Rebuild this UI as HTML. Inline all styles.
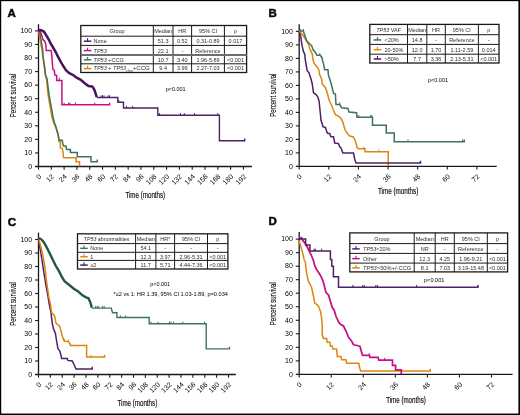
<!DOCTYPE html>
<html><head><meta charset="utf-8"><style>
html,body{margin:0;padding:0;background:#fff;}
body{width:520px;height:415px;overflow:hidden;}
svg{display:block;font-family:"Liberation Sans", sans-serif;will-change:transform;}
</style></head><body>
<svg width="520" height="415" viewBox="0 0 520 415">
<rect x="0" y="0" width="520" height="415" fill="#fff"/>
<text x="7.40" y="17.25" font-size="11.5" font-weight="bold" stroke="#1a1a1a" stroke-width="0.55">A</text>
<line x1="38.50" y1="24.20" x2="38.50" y2="167.10" stroke="#1a1a1a" stroke-width="1.3"/>
<line x1="35.10" y1="166.50" x2="251.90" y2="166.50" stroke="#1a1a1a" stroke-width="1.3"/>
<text x="32.15" y="168.80" font-size="7" text-anchor="end">0</text>
<line x1="35.10" y1="152.94" x2="38.50" y2="152.94" stroke="#1a1a1a" stroke-width="1.1"/>
<text x="32.15" y="155.24" font-size="7" text-anchor="end">10</text>
<line x1="35.10" y1="139.38" x2="38.50" y2="139.38" stroke="#1a1a1a" stroke-width="1.1"/>
<text x="32.15" y="141.68" font-size="7" text-anchor="end">20</text>
<line x1="35.10" y1="125.82" x2="38.50" y2="125.82" stroke="#1a1a1a" stroke-width="1.1"/>
<text x="32.15" y="128.12" font-size="7" text-anchor="end">30</text>
<line x1="35.10" y1="112.26" x2="38.50" y2="112.26" stroke="#1a1a1a" stroke-width="1.1"/>
<text x="32.15" y="114.56" font-size="7" text-anchor="end">40</text>
<line x1="35.10" y1="98.70" x2="38.50" y2="98.70" stroke="#1a1a1a" stroke-width="1.1"/>
<text x="32.15" y="101.00" font-size="7" text-anchor="end">50</text>
<line x1="35.10" y1="85.14" x2="38.50" y2="85.14" stroke="#1a1a1a" stroke-width="1.1"/>
<text x="32.15" y="87.44" font-size="7" text-anchor="end">60</text>
<line x1="35.10" y1="71.58" x2="38.50" y2="71.58" stroke="#1a1a1a" stroke-width="1.1"/>
<text x="32.15" y="73.88" font-size="7" text-anchor="end">70</text>
<line x1="35.10" y1="58.02" x2="38.50" y2="58.02" stroke="#1a1a1a" stroke-width="1.1"/>
<text x="32.15" y="60.32" font-size="7" text-anchor="end">80</text>
<line x1="35.10" y1="44.46" x2="38.50" y2="44.46" stroke="#1a1a1a" stroke-width="1.1"/>
<text x="32.15" y="46.76" font-size="7" text-anchor="end">90</text>
<line x1="35.10" y1="30.90" x2="38.50" y2="30.90" stroke="#1a1a1a" stroke-width="1.1"/>
<text x="32.15" y="33.20" font-size="7" text-anchor="end">100</text>
<line x1="38.50" y1="166.50" x2="38.50" y2="169.70" stroke="#1a1a1a" stroke-width="1.1"/>
<text x="41.70" y="177.00" font-size="7" text-anchor="end" transform="rotate(-45 41.70 177.00)">0</text>
<line x1="51.31" y1="166.50" x2="51.31" y2="169.70" stroke="#1a1a1a" stroke-width="1.1"/>
<text x="54.51" y="177.00" font-size="7" text-anchor="end" transform="rotate(-45 54.51 177.00)">12</text>
<line x1="64.12" y1="166.50" x2="64.12" y2="169.70" stroke="#1a1a1a" stroke-width="1.1"/>
<text x="67.32" y="177.00" font-size="7" text-anchor="end" transform="rotate(-45 67.32 177.00)">24</text>
<line x1="76.93" y1="166.50" x2="76.93" y2="169.70" stroke="#1a1a1a" stroke-width="1.1"/>
<text x="80.13" y="177.00" font-size="7" text-anchor="end" transform="rotate(-45 80.13 177.00)">36</text>
<line x1="89.74" y1="166.50" x2="89.74" y2="169.70" stroke="#1a1a1a" stroke-width="1.1"/>
<text x="92.94" y="177.00" font-size="7" text-anchor="end" transform="rotate(-45 92.94 177.00)">48</text>
<line x1="102.55" y1="166.50" x2="102.55" y2="169.70" stroke="#1a1a1a" stroke-width="1.1"/>
<text x="105.75" y="177.00" font-size="7" text-anchor="end" transform="rotate(-45 105.75 177.00)">60</text>
<line x1="115.36" y1="166.50" x2="115.36" y2="169.70" stroke="#1a1a1a" stroke-width="1.1"/>
<text x="118.56" y="177.00" font-size="7" text-anchor="end" transform="rotate(-45 118.56 177.00)">72</text>
<line x1="128.17" y1="166.50" x2="128.17" y2="169.70" stroke="#1a1a1a" stroke-width="1.1"/>
<text x="131.37" y="177.00" font-size="7" text-anchor="end" transform="rotate(-45 131.37 177.00)">84</text>
<line x1="140.98" y1="166.50" x2="140.98" y2="169.70" stroke="#1a1a1a" stroke-width="1.1"/>
<text x="144.18" y="177.00" font-size="7" text-anchor="end" transform="rotate(-45 144.18 177.00)">96</text>
<line x1="153.79" y1="166.50" x2="153.79" y2="169.70" stroke="#1a1a1a" stroke-width="1.1"/>
<text x="156.99" y="177.00" font-size="7" text-anchor="end" transform="rotate(-45 156.99 177.00)">108</text>
<line x1="166.60" y1="166.50" x2="166.60" y2="169.70" stroke="#1a1a1a" stroke-width="1.1"/>
<text x="169.80" y="177.00" font-size="7" text-anchor="end" transform="rotate(-45 169.80 177.00)">120</text>
<line x1="179.41" y1="166.50" x2="179.41" y2="169.70" stroke="#1a1a1a" stroke-width="1.1"/>
<text x="182.61" y="177.00" font-size="7" text-anchor="end" transform="rotate(-45 182.61 177.00)">132</text>
<line x1="192.22" y1="166.50" x2="192.22" y2="169.70" stroke="#1a1a1a" stroke-width="1.1"/>
<text x="195.42" y="177.00" font-size="7" text-anchor="end" transform="rotate(-45 195.42 177.00)">144</text>
<line x1="205.03" y1="166.50" x2="205.03" y2="169.70" stroke="#1a1a1a" stroke-width="1.1"/>
<text x="208.23" y="177.00" font-size="7" text-anchor="end" transform="rotate(-45 208.23 177.00)">156</text>
<line x1="217.84" y1="166.50" x2="217.84" y2="169.70" stroke="#1a1a1a" stroke-width="1.1"/>
<text x="221.04" y="177.00" font-size="7" text-anchor="end" transform="rotate(-45 221.04 177.00)">168</text>
<line x1="230.65" y1="166.50" x2="230.65" y2="169.70" stroke="#1a1a1a" stroke-width="1.1"/>
<text x="233.85" y="177.00" font-size="7" text-anchor="end" transform="rotate(-45 233.85 177.00)">180</text>
<line x1="243.46" y1="166.50" x2="243.46" y2="169.70" stroke="#1a1a1a" stroke-width="1.1"/>
<text x="246.66" y="177.00" font-size="7" text-anchor="end" transform="rotate(-45 246.66 177.00)">192</text>
<text x="16.00" y="95.55" font-size="9.8" text-anchor="middle" textLength="43.3" lengthAdjust="spacingAndGlyphs" transform="rotate(-90 16.00 95.55)" stroke="#1a1a1a" stroke-width="0.12">Percent survival</text>
<text x="125.40" y="197.50" font-size="9.4" textLength="39.8" lengthAdjust="spacingAndGlyphs" stroke="#1a1a1a" stroke-width="0.18">Time (months)</text>
<polyline points="38.70,31.60 39.10,33.20 40.10,40.50 42.00,49.90 43.00,57.70 44.40,67.30 45.30,75.00 46.70,80.00 47.70,91.90 49.00,100.00 50.30,108.00 51.70,116.00 53.00,121.00 54.75,124.90 57.90,133.00 59.10,141.75 60.40,141.75 60.40,148.00 62.25,148.60 62.90,151.75 63.50,157.75 76.00,157.75 76.00,161.75 79.50,161.75 79.50,166.20" fill="none" stroke="#dc860f" stroke-width="1.5" stroke-linejoin="miter" stroke-linecap="butt"/>
<polyline points="38.70,31.60 39.80,31.80 41.20,40.50 42.70,49.90 43.20,57.70 44.70,67.30 45.60,75.00 47.10,78.90 48.00,86.60 49.20,95.70 50.60,103.40 52.00,111.10 53.00,116.90 54.50,122.70 55.90,126.60 56.60,129.25 58.50,136.75 59.10,140.25 62.25,140.25 62.90,144.00 63.50,146.10 66.00,146.10 66.60,149.60 70.40,149.60 70.40,152.40 77.25,152.40 77.25,156.75 91.00,156.75 91.00,161.75 97.30,161.75 97.30,159.60" fill="none" stroke="#3f735a" stroke-width="1.5" stroke-linejoin="miter" stroke-linecap="butt"/>
<polyline points="38.70,30.30 40.90,32.90 42.00,36.10 43.00,39.70 44.80,41.20 45.90,44.80 46.20,50.50 51.00,50.50 51.40,52.00 52.90,69.30 54.30,70.20 54.80,75.00 56.70,75.50 56.70,80.40 61.90,80.40 61.90,104.80 109.60,104.80 109.60,102.80" fill="none" stroke="#c80f82" stroke-width="1.5" stroke-linejoin="miter" stroke-linecap="butt"/>
<line x1="59.30" y1="80.00" x2="59.30" y2="77.80" stroke="#c80f82" stroke-width="1.0"/>
<line x1="64.10" y1="104.80" x2="64.10" y2="102.60" stroke="#c80f82" stroke-width="1.0"/>
<line x1="68.50" y1="104.80" x2="68.50" y2="102.60" stroke="#c80f82" stroke-width="1.0"/>
<line x1="69.75" y1="104.80" x2="69.75" y2="102.60" stroke="#c80f82" stroke-width="1.0"/>
<line x1="75.40" y1="104.80" x2="75.40" y2="102.60" stroke="#c80f82" stroke-width="1.0"/>
<line x1="94.75" y1="104.80" x2="94.75" y2="102.60" stroke="#c80f82" stroke-width="1.0"/>
<polyline points="38.70,30.00 41.20,30.20 44.10,31.80 46.30,35.40 48.50,39.00 50.60,43.40 52.80,47.00 55.70,52.00 57.20,55.20 60.60,61.60 63.50,66.40 65.90,70.20 69.30,73.10 73.10,75.00 77.00,77.90 80.80,79.90 84.70,83.20 88.50,86.10 92.40,86.60 94.30,89.50 95.50,93.00 96.60,97.00" fill="none" stroke="#46145e" stroke-width="2.5" stroke-linejoin="miter" stroke-linecap="butt"/>
<polyline points="96.60,97.50 117.80,97.50 117.80,102.30 123.50,102.30 123.50,108.00 157.80,108.00 157.80,115.30 219.40,115.30 219.40,140.80 244.70,140.80 244.70,138.60" fill="none" stroke="#4f1f68" stroke-width="1.4" stroke-linejoin="miter" stroke-linecap="butt"/>
<line x1="101.00" y1="97.50" x2="101.00" y2="95.30" stroke="#4f1f68" stroke-width="1.0"/>
<line x1="102.50" y1="97.50" x2="102.50" y2="95.30" stroke="#4f1f68" stroke-width="1.0"/>
<line x1="104.00" y1="97.50" x2="104.00" y2="95.30" stroke="#4f1f68" stroke-width="1.0"/>
<line x1="108.00" y1="97.50" x2="108.00" y2="95.30" stroke="#4f1f68" stroke-width="1.0"/>
<line x1="109.50" y1="97.50" x2="109.50" y2="95.30" stroke="#4f1f68" stroke-width="1.0"/>
<line x1="118.80" y1="102.30" x2="118.80" y2="100.10" stroke="#4f1f68" stroke-width="1.0"/>
<line x1="126.50" y1="108.00" x2="126.50" y2="105.80" stroke="#4f1f68" stroke-width="1.0"/>
<line x1="132.70" y1="108.00" x2="132.70" y2="105.80" stroke="#4f1f68" stroke-width="1.0"/>
<line x1="159.60" y1="115.30" x2="159.60" y2="113.10" stroke="#4f1f68" stroke-width="1.0"/>
<line x1="180.50" y1="115.30" x2="180.50" y2="113.10" stroke="#4f1f68" stroke-width="1.0"/>
<line x1="184.30" y1="115.30" x2="184.30" y2="113.10" stroke="#4f1f68" stroke-width="1.0"/>
<line x1="194.50" y1="115.30" x2="194.50" y2="113.10" stroke="#4f1f68" stroke-width="1.0"/>
<line x1="217.70" y1="115.30" x2="217.70" y2="113.10" stroke="#4f1f68" stroke-width="1.0"/>
<rect x="80.80" y="25.50" width="165.80" height="47.00" fill="#fff" stroke="#1a1a1a" stroke-width="1.3"/>
<line x1="80.80" y1="36.20" x2="246.60" y2="36.20" stroke="#1a1a1a" stroke-width="1.0"/>
<line x1="80.80" y1="45.40" x2="246.60" y2="45.40" stroke="#1a1a1a" stroke-width="1.0"/>
<line x1="80.80" y1="55.00" x2="246.60" y2="55.00" stroke="#1a1a1a" stroke-width="1.0"/>
<line x1="80.80" y1="63.80" x2="246.60" y2="63.80" stroke="#1a1a1a" stroke-width="1.0"/>
<line x1="153.30" y1="25.50" x2="153.30" y2="72.50" stroke="#1a1a1a" stroke-width="1.0"/>
<line x1="173.00" y1="25.50" x2="173.00" y2="72.50" stroke="#1a1a1a" stroke-width="1.0"/>
<line x1="191.60" y1="25.50" x2="191.60" y2="72.50" stroke="#1a1a1a" stroke-width="1.0"/>
<line x1="224.40" y1="25.50" x2="224.40" y2="72.50" stroke="#1a1a1a" stroke-width="1.0"/>
<text x="117.05" y="33.16" font-size="5.5" text-anchor="middle" fill="#2e2e2e">Group</text>
<text x="163.15" y="33.16" font-size="5.5" text-anchor="middle" fill="#2e2e2e">Median</text>
<text x="182.30" y="33.16" font-size="5.5" text-anchor="middle" fill="#2e2e2e">HR</text>
<text x="208.00" y="33.16" font-size="5.5" text-anchor="middle" fill="#2e2e2e">95% CI</text>
<text x="235.50" y="33.16" font-size="5.5" text-anchor="middle" fill="#2e2e2e">p</text>
<line x1="83.80" y1="41.20" x2="91.30" y2="41.20" stroke="#4f1f68" stroke-width="1.5"/>
<line x1="87.55" y1="41.20" x2="87.55" y2="38.30" stroke="#4f1f68" stroke-width="1.1"/>
<text x="93.60" y="43.11" font-size="5.5" fill="#2e2e2e">None</text>
<text x="163.15" y="43.11" font-size="5.5" text-anchor="middle" fill="#2e2e2e">51.3</text>
<text x="182.30" y="43.11" font-size="5.5" text-anchor="middle" fill="#2e2e2e">0.52</text>
<text x="208.00" y="43.11" font-size="5.5" text-anchor="middle" fill="#2e2e2e">0.31-0.89</text>
<text x="235.50" y="43.11" font-size="5.5" text-anchor="middle" fill="#2e2e2e">0.017</text>
<line x1="83.80" y1="50.60" x2="91.30" y2="50.60" stroke="#c80f82" stroke-width="1.5"/>
<line x1="87.55" y1="50.60" x2="87.55" y2="47.70" stroke="#c80f82" stroke-width="1.1"/>
<text x="93.60" y="52.51" font-size="5.5" fill="#2e2e2e"><tspan font-style="italic">TP53</tspan></text>
<text x="163.15" y="52.51" font-size="5.5" text-anchor="middle" fill="#2e2e2e">22.1</text>
<text x="182.30" y="52.51" font-size="5.5" text-anchor="middle" fill="#2e2e2e">-</text>
<text x="208.00" y="52.51" font-size="5.5" text-anchor="middle" fill="#2e2e2e">Reference</text>
<line x1="83.80" y1="59.80" x2="91.30" y2="59.80" stroke="#3f735a" stroke-width="1.5"/>
<line x1="87.55" y1="59.80" x2="87.55" y2="56.90" stroke="#3f735a" stroke-width="1.1"/>
<text x="93.60" y="61.71" font-size="5.5" fill="#2e2e2e"><tspan font-style="italic">TP53</tspan> +CCG</text>
<text x="163.15" y="61.71" font-size="5.5" text-anchor="middle" fill="#2e2e2e">10.7</text>
<text x="182.30" y="61.71" font-size="5.5" text-anchor="middle" fill="#2e2e2e">3.40</text>
<text x="208.00" y="61.71" font-size="5.5" text-anchor="middle" fill="#2e2e2e">1.96-5.89</text>
<text x="235.50" y="61.71" font-size="5.5" text-anchor="middle" fill="#2e2e2e">&lt;0.001</text>
<line x1="83.80" y1="68.55" x2="91.30" y2="68.55" stroke="#dc860f" stroke-width="1.5"/>
<line x1="87.55" y1="68.55" x2="87.55" y2="65.65" stroke="#dc860f" stroke-width="1.1"/>
<text x="93.60" y="70.46" font-size="5.5" fill="#2e2e2e"><tspan font-style="italic">TP53</tspan> + <tspan font-style="italic">TP53</tspan><tspan font-size="3" dy="1.6" textLength="6.5" lengthAdjust="spacingAndGlyphs">clon</tspan><tspan dy="-1.6" textLength="17.2" lengthAdjust="spacingAndGlyphs">+CCG</tspan></text>
<text x="163.15" y="70.46" font-size="5.5" text-anchor="middle" fill="#2e2e2e">9.4</text>
<text x="182.30" y="70.46" font-size="5.5" text-anchor="middle" fill="#2e2e2e">3.99</text>
<text x="208.00" y="70.46" font-size="5.5" text-anchor="middle" fill="#2e2e2e">2.27-7.03</text>
<text x="235.50" y="70.46" font-size="5.5" text-anchor="middle" fill="#2e2e2e">&lt;0.001</text>
<line x1="80.80" y1="55.00" x2="246.70" y2="55.00" stroke="#6e6e6e" stroke-width="2.0"/>
<text x="165.70" y="90.90" font-size="5.5" textLength="20" lengthAdjust="spacingAndGlyphs">p&lt;0.001</text>
<text x="268.40" y="17.10" font-size="11.5" font-weight="bold" stroke="#1a1a1a" stroke-width="0.55">B</text>
<line x1="299.20" y1="24.30" x2="299.20" y2="167.00" stroke="#1a1a1a" stroke-width="1.3"/>
<line x1="295.80" y1="166.40" x2="496.70" y2="166.40" stroke="#1a1a1a" stroke-width="1.3"/>
<text x="292.85" y="168.70" font-size="7" text-anchor="end">0</text>
<line x1="295.80" y1="152.90" x2="299.20" y2="152.90" stroke="#1a1a1a" stroke-width="1.1"/>
<text x="292.85" y="155.20" font-size="7" text-anchor="end">10</text>
<line x1="295.80" y1="139.40" x2="299.20" y2="139.40" stroke="#1a1a1a" stroke-width="1.1"/>
<text x="292.85" y="141.70" font-size="7" text-anchor="end">20</text>
<line x1="295.80" y1="125.90" x2="299.20" y2="125.90" stroke="#1a1a1a" stroke-width="1.1"/>
<text x="292.85" y="128.20" font-size="7" text-anchor="end">30</text>
<line x1="295.80" y1="112.40" x2="299.20" y2="112.40" stroke="#1a1a1a" stroke-width="1.1"/>
<text x="292.85" y="114.70" font-size="7" text-anchor="end">40</text>
<line x1="295.80" y1="98.90" x2="299.20" y2="98.90" stroke="#1a1a1a" stroke-width="1.1"/>
<text x="292.85" y="101.20" font-size="7" text-anchor="end">50</text>
<line x1="295.80" y1="85.40" x2="299.20" y2="85.40" stroke="#1a1a1a" stroke-width="1.1"/>
<text x="292.85" y="87.70" font-size="7" text-anchor="end">60</text>
<line x1="295.80" y1="71.90" x2="299.20" y2="71.90" stroke="#1a1a1a" stroke-width="1.1"/>
<text x="292.85" y="74.20" font-size="7" text-anchor="end">70</text>
<line x1="295.80" y1="58.40" x2="299.20" y2="58.40" stroke="#1a1a1a" stroke-width="1.1"/>
<text x="292.85" y="60.70" font-size="7" text-anchor="end">80</text>
<line x1="295.80" y1="44.90" x2="299.20" y2="44.90" stroke="#1a1a1a" stroke-width="1.1"/>
<text x="292.85" y="47.20" font-size="7" text-anchor="end">90</text>
<line x1="295.80" y1="31.40" x2="299.20" y2="31.40" stroke="#1a1a1a" stroke-width="1.1"/>
<text x="292.85" y="33.70" font-size="7" text-anchor="end">100</text>
<line x1="299.20" y1="166.40" x2="299.20" y2="169.60" stroke="#1a1a1a" stroke-width="1.1"/>
<text x="302.40" y="176.90" font-size="7" text-anchor="end" transform="rotate(-45 302.40 176.90)">0</text>
<line x1="328.82" y1="166.40" x2="328.82" y2="169.60" stroke="#1a1a1a" stroke-width="1.1"/>
<text x="332.02" y="176.90" font-size="7" text-anchor="end" transform="rotate(-45 332.02 176.90)">12</text>
<line x1="358.44" y1="166.40" x2="358.44" y2="169.60" stroke="#1a1a1a" stroke-width="1.1"/>
<text x="361.64" y="176.90" font-size="7" text-anchor="end" transform="rotate(-45 361.64 176.90)">24</text>
<line x1="388.06" y1="166.40" x2="388.06" y2="169.60" stroke="#1a1a1a" stroke-width="1.1"/>
<text x="391.26" y="176.90" font-size="7" text-anchor="end" transform="rotate(-45 391.26 176.90)">36</text>
<line x1="417.68" y1="166.40" x2="417.68" y2="169.60" stroke="#1a1a1a" stroke-width="1.1"/>
<text x="420.88" y="176.90" font-size="7" text-anchor="end" transform="rotate(-45 420.88 176.90)">48</text>
<line x1="447.30" y1="166.40" x2="447.30" y2="169.60" stroke="#1a1a1a" stroke-width="1.1"/>
<text x="450.50" y="176.90" font-size="7" text-anchor="end" transform="rotate(-45 450.50 176.90)">60</text>
<line x1="476.92" y1="166.40" x2="476.92" y2="169.60" stroke="#1a1a1a" stroke-width="1.1"/>
<text x="480.12" y="176.90" font-size="7" text-anchor="end" transform="rotate(-45 480.12 176.90)">72</text>
<text x="276.20" y="95.15" font-size="9.8" text-anchor="middle" textLength="43.1" lengthAdjust="spacingAndGlyphs" transform="rotate(-90 276.20 95.15)" stroke="#1a1a1a" stroke-width="0.12">Percent survival</text>
<text x="377.90" y="194.40" font-size="9.4" textLength="40.4" lengthAdjust="spacingAndGlyphs" stroke="#1a1a1a" stroke-width="0.18">Time (months)</text>
<polyline points="299.10,31.00 300.80,32.70 302.90,35.00 305.80,39.80 308.70,44.60 309.60,48.50 311.60,52.40 312.50,55.20 313.00,60.00 314.50,63.90 316.90,66.80 318.80,69.70 319.80,75.00 321.60,79.00 322.25,84.00 325.40,87.75 327.25,92.75 329.10,100.25 331.60,105.25 333.50,110.25 335.40,114.60 339.10,116.50 341.00,118.40 342.90,122.10 344.10,126.75 345.40,130.50 347.90,134.25 349.75,136.10 352.90,136.75 354.75,139.25 356.00,143.00 357.25,148.00 358.75,148.75 365.00,148.75 365.00,151.75 388.25,151.75 388.25,166.10" fill="none" stroke="#dc860f" stroke-width="1.5" stroke-linejoin="miter" stroke-linecap="butt"/>
<line x1="363.80" y1="148.75" x2="363.80" y2="146.55" stroke="#dc860f" stroke-width="1.0"/>
<line x1="378.80" y1="151.75" x2="378.80" y2="149.55" stroke="#dc860f" stroke-width="1.0"/>
<polyline points="299.10,31.10 303.40,31.10 304.40,34.20 306.75,40.80 309.60,43.70 311.60,45.60 313.00,49.50 315.40,52.40 316.90,55.20 320.20,55.20 321.70,57.20 322.70,61.00 323.60,63.90 324.60,69.70 328.00,69.70 328.40,75.00 329.75,79.00 332.25,87.75 333.50,93.40 335.40,94.00 336.00,104.60 339.75,104.60 341.60,107.75 347.90,108.40 349.10,112.10 356.60,112.75 356.90,117.25 372.50,117.25 372.50,125.20 386.25,125.20 386.25,133.00 394.25,133.00 394.25,141.75 464.25,141.75 464.25,139.60" fill="none" stroke="#3f735a" stroke-width="1.5" stroke-linejoin="miter" stroke-linecap="butt"/>
<line x1="300.80" y1="31.10" x2="300.80" y2="28.90" stroke="#3f735a" stroke-width="1.0"/>
<line x1="303.40" y1="31.10" x2="303.40" y2="28.90" stroke="#3f735a" stroke-width="1.0"/>
<line x1="319.80" y1="55.20" x2="319.80" y2="53.00" stroke="#3f735a" stroke-width="1.0"/>
<line x1="339.75" y1="104.60" x2="339.75" y2="102.40" stroke="#3f735a" stroke-width="1.0"/>
<line x1="358.80" y1="117.25" x2="358.80" y2="115.05" stroke="#3f735a" stroke-width="1.0"/>
<line x1="370.60" y1="117.25" x2="370.60" y2="115.05" stroke="#3f735a" stroke-width="1.0"/>
<line x1="371.90" y1="117.25" x2="371.90" y2="115.05" stroke="#3f735a" stroke-width="1.0"/>
<line x1="408.00" y1="141.75" x2="408.00" y2="139.55" stroke="#3f735a" stroke-width="1.0"/>
<line x1="462.50" y1="141.75" x2="462.50" y2="139.55" stroke="#3f735a" stroke-width="1.0"/>
<polyline points="299.10,32.50 300.50,35.00 301.90,44.60 303.40,51.40 304.80,54.30 305.30,60.00 306.30,65.90 307.20,70.70 309.20,73.10 309.60,75.00 311.00,79.00 312.25,84.00 313.50,92.75 316.00,94.60 317.90,97.10 319.10,101.50 319.75,107.75 320.40,114.00 321.00,120.25 322.25,124.00 322.90,126.75 325.40,127.40 327.25,133.00 329.75,133.60 331.00,136.75 333.50,136.75 334.75,143.00 338.50,143.60 339.75,146.75 341.00,148.00 342.90,153.00 353.50,153.00 354.75,159.25 356.00,162.90 420.50,162.90 420.50,160.80" fill="none" stroke="#4f1f68" stroke-width="1.5" stroke-linejoin="miter" stroke-linecap="butt"/>
<rect x="369.80" y="24.40" width="129.20" height="38.60" fill="#fff" stroke="#1a1a1a" stroke-width="1.3"/>
<line x1="369.80" y1="34.70" x2="499.00" y2="34.70" stroke="#1a1a1a" stroke-width="1.0"/>
<line x1="369.80" y1="44.40" x2="499.00" y2="44.40" stroke="#1a1a1a" stroke-width="1.0"/>
<line x1="369.80" y1="54.20" x2="499.00" y2="54.20" stroke="#1a1a1a" stroke-width="1.0"/>
<line x1="407.50" y1="24.40" x2="407.50" y2="63.00" stroke="#1a1a1a" stroke-width="1.0"/>
<line x1="426.80" y1="24.40" x2="426.80" y2="63.00" stroke="#1a1a1a" stroke-width="1.0"/>
<line x1="445.30" y1="24.40" x2="445.30" y2="63.00" stroke="#1a1a1a" stroke-width="1.0"/>
<line x1="478.40" y1="24.40" x2="478.40" y2="63.00" stroke="#1a1a1a" stroke-width="1.0"/>
<text x="388.65" y="31.86" font-size="5.5" text-anchor="middle" fill="#2e2e2e"><tspan font-style="italic">TP53</tspan> VAF</text>
<text x="417.15" y="31.86" font-size="5.5" text-anchor="middle" fill="#2e2e2e">Median</text>
<text x="436.05" y="31.86" font-size="5.5" text-anchor="middle" fill="#2e2e2e">HR</text>
<text x="461.85" y="31.86" font-size="5.5" text-anchor="middle" fill="#2e2e2e">95% CI</text>
<text x="488.70" y="31.86" font-size="5.5" text-anchor="middle" fill="#2e2e2e">p</text>
<line x1="373.70" y1="39.95" x2="381.20" y2="39.95" stroke="#3f735a" stroke-width="1.5"/>
<line x1="377.45" y1="39.95" x2="377.45" y2="37.05" stroke="#3f735a" stroke-width="1.1"/>
<text x="384.50" y="41.86" font-size="5.5" fill="#2e2e2e">&lt;20%</text>
<text x="417.15" y="41.86" font-size="5.5" text-anchor="middle" fill="#2e2e2e">14.8</text>
<text x="436.05" y="41.86" font-size="5.5" text-anchor="middle" fill="#2e2e2e">-</text>
<text x="461.85" y="41.86" font-size="5.5" text-anchor="middle" fill="#2e2e2e">Reference</text>
<text x="488.70" y="41.86" font-size="5.5" text-anchor="middle" fill="#2e2e2e">-</text>
<line x1="373.70" y1="49.70" x2="381.20" y2="49.70" stroke="#dc860f" stroke-width="1.5"/>
<line x1="377.45" y1="49.70" x2="377.45" y2="46.80" stroke="#dc860f" stroke-width="1.1"/>
<text x="384.50" y="51.61" font-size="5.5" fill="#2e2e2e">20-50%</text>
<text x="417.15" y="51.61" font-size="5.5" text-anchor="middle" fill="#2e2e2e">12.0</text>
<text x="436.05" y="51.61" font-size="5.5" text-anchor="middle" fill="#2e2e2e">1.70</text>
<text x="461.85" y="51.61" font-size="5.5" text-anchor="middle" fill="#2e2e2e">1.11-2.59</text>
<text x="488.70" y="51.61" font-size="5.5" text-anchor="middle" fill="#2e2e2e">0.014</text>
<line x1="373.70" y1="59.00" x2="381.20" y2="59.00" stroke="#4f1f68" stroke-width="1.5"/>
<line x1="377.45" y1="59.00" x2="377.45" y2="56.10" stroke="#4f1f68" stroke-width="1.1"/>
<text x="384.50" y="60.91" font-size="5.5" fill="#2e2e2e">&gt;50%</text>
<text x="417.15" y="60.91" font-size="5.5" text-anchor="middle" fill="#2e2e2e">7.7</text>
<text x="436.05" y="60.91" font-size="5.5" text-anchor="middle" fill="#2e2e2e">3.36</text>
<text x="461.85" y="60.91" font-size="5.5" text-anchor="middle" fill="#2e2e2e">2.13-5.31</text>
<text x="488.70" y="60.91" font-size="5.5" text-anchor="middle" fill="#2e2e2e">&lt;0.001</text>
<text x="428.00" y="81.90" font-size="5.5" textLength="20" lengthAdjust="spacingAndGlyphs">p&lt;0.001</text>
<text x="7.80" y="225.90" font-size="11.5" font-weight="bold" stroke="#1a1a1a" stroke-width="0.55">C</text>
<line x1="38.50" y1="232.60" x2="38.50" y2="375.10" stroke="#1a1a1a" stroke-width="1.3"/>
<line x1="35.10" y1="374.50" x2="235.80" y2="374.50" stroke="#1a1a1a" stroke-width="1.3"/>
<text x="32.15" y="376.80" font-size="7" text-anchor="end">0</text>
<line x1="35.10" y1="361.00" x2="38.50" y2="361.00" stroke="#1a1a1a" stroke-width="1.1"/>
<text x="32.15" y="363.30" font-size="7" text-anchor="end">10</text>
<line x1="35.10" y1="347.50" x2="38.50" y2="347.50" stroke="#1a1a1a" stroke-width="1.1"/>
<text x="32.15" y="349.80" font-size="7" text-anchor="end">20</text>
<line x1="35.10" y1="334.00" x2="38.50" y2="334.00" stroke="#1a1a1a" stroke-width="1.1"/>
<text x="32.15" y="336.30" font-size="7" text-anchor="end">30</text>
<line x1="35.10" y1="320.50" x2="38.50" y2="320.50" stroke="#1a1a1a" stroke-width="1.1"/>
<text x="32.15" y="322.80" font-size="7" text-anchor="end">40</text>
<line x1="35.10" y1="307.00" x2="38.50" y2="307.00" stroke="#1a1a1a" stroke-width="1.1"/>
<text x="32.15" y="309.30" font-size="7" text-anchor="end">50</text>
<line x1="35.10" y1="293.50" x2="38.50" y2="293.50" stroke="#1a1a1a" stroke-width="1.1"/>
<text x="32.15" y="295.80" font-size="7" text-anchor="end">60</text>
<line x1="35.10" y1="280.00" x2="38.50" y2="280.00" stroke="#1a1a1a" stroke-width="1.1"/>
<text x="32.15" y="282.30" font-size="7" text-anchor="end">70</text>
<line x1="35.10" y1="266.50" x2="38.50" y2="266.50" stroke="#1a1a1a" stroke-width="1.1"/>
<text x="32.15" y="268.80" font-size="7" text-anchor="end">80</text>
<line x1="35.10" y1="253.00" x2="38.50" y2="253.00" stroke="#1a1a1a" stroke-width="1.1"/>
<text x="32.15" y="255.30" font-size="7" text-anchor="end">90</text>
<line x1="35.10" y1="239.50" x2="38.50" y2="239.50" stroke="#1a1a1a" stroke-width="1.1"/>
<text x="32.15" y="241.80" font-size="7" text-anchor="end">100</text>
<line x1="38.50" y1="374.50" x2="38.50" y2="377.70" stroke="#1a1a1a" stroke-width="1.1"/>
<text x="41.70" y="385.00" font-size="7" text-anchor="end" transform="rotate(-45 41.70 385.00)">0</text>
<line x1="50.38" y1="374.50" x2="50.38" y2="377.70" stroke="#1a1a1a" stroke-width="1.1"/>
<text x="53.58" y="385.00" font-size="7" text-anchor="end" transform="rotate(-45 53.58 385.00)">12</text>
<line x1="62.25" y1="374.50" x2="62.25" y2="377.70" stroke="#1a1a1a" stroke-width="1.1"/>
<text x="65.45" y="385.00" font-size="7" text-anchor="end" transform="rotate(-45 65.45 385.00)">24</text>
<line x1="74.12" y1="374.50" x2="74.12" y2="377.70" stroke="#1a1a1a" stroke-width="1.1"/>
<text x="77.33" y="385.00" font-size="7" text-anchor="end" transform="rotate(-45 77.33 385.00)">36</text>
<line x1="86.00" y1="374.50" x2="86.00" y2="377.70" stroke="#1a1a1a" stroke-width="1.1"/>
<text x="89.20" y="385.00" font-size="7" text-anchor="end" transform="rotate(-45 89.20 385.00)">48</text>
<line x1="97.88" y1="374.50" x2="97.88" y2="377.70" stroke="#1a1a1a" stroke-width="1.1"/>
<text x="101.08" y="385.00" font-size="7" text-anchor="end" transform="rotate(-45 101.08 385.00)">60</text>
<line x1="109.75" y1="374.50" x2="109.75" y2="377.70" stroke="#1a1a1a" stroke-width="1.1"/>
<text x="112.95" y="385.00" font-size="7" text-anchor="end" transform="rotate(-45 112.95 385.00)">72</text>
<line x1="121.62" y1="374.50" x2="121.62" y2="377.70" stroke="#1a1a1a" stroke-width="1.1"/>
<text x="124.83" y="385.00" font-size="7" text-anchor="end" transform="rotate(-45 124.83 385.00)">84</text>
<line x1="133.50" y1="374.50" x2="133.50" y2="377.70" stroke="#1a1a1a" stroke-width="1.1"/>
<text x="136.70" y="385.00" font-size="7" text-anchor="end" transform="rotate(-45 136.70 385.00)">96</text>
<line x1="145.38" y1="374.50" x2="145.38" y2="377.70" stroke="#1a1a1a" stroke-width="1.1"/>
<text x="148.57" y="385.00" font-size="7" text-anchor="end" transform="rotate(-45 148.57 385.00)">108</text>
<line x1="157.25" y1="374.50" x2="157.25" y2="377.70" stroke="#1a1a1a" stroke-width="1.1"/>
<text x="160.45" y="385.00" font-size="7" text-anchor="end" transform="rotate(-45 160.45 385.00)">120</text>
<line x1="169.12" y1="374.50" x2="169.12" y2="377.70" stroke="#1a1a1a" stroke-width="1.1"/>
<text x="172.32" y="385.00" font-size="7" text-anchor="end" transform="rotate(-45 172.32 385.00)">132</text>
<line x1="181.00" y1="374.50" x2="181.00" y2="377.70" stroke="#1a1a1a" stroke-width="1.1"/>
<text x="184.20" y="385.00" font-size="7" text-anchor="end" transform="rotate(-45 184.20 385.00)">144</text>
<line x1="192.88" y1="374.50" x2="192.88" y2="377.70" stroke="#1a1a1a" stroke-width="1.1"/>
<text x="196.07" y="385.00" font-size="7" text-anchor="end" transform="rotate(-45 196.07 385.00)">156</text>
<line x1="204.75" y1="374.50" x2="204.75" y2="377.70" stroke="#1a1a1a" stroke-width="1.1"/>
<text x="207.95" y="385.00" font-size="7" text-anchor="end" transform="rotate(-45 207.95 385.00)">168</text>
<line x1="216.62" y1="374.50" x2="216.62" y2="377.70" stroke="#1a1a1a" stroke-width="1.1"/>
<text x="219.82" y="385.00" font-size="7" text-anchor="end" transform="rotate(-45 219.82 385.00)">180</text>
<line x1="228.50" y1="374.50" x2="228.50" y2="377.70" stroke="#1a1a1a" stroke-width="1.1"/>
<text x="231.70" y="385.00" font-size="7" text-anchor="end" transform="rotate(-45 231.70 385.00)">192</text>
<text x="15.60" y="304.00" font-size="9.8" text-anchor="middle" textLength="43.6" lengthAdjust="spacingAndGlyphs" transform="rotate(-90 15.60 304.00)" stroke="#1a1a1a" stroke-width="0.12">Percent survival</text>
<text x="117.50" y="405.60" font-size="9.4" textLength="39.7" lengthAdjust="spacingAndGlyphs" stroke="#1a1a1a" stroke-width="0.18">Time (months)</text>
<polyline points="38.50,239.60 40.00,248.00 41.00,254.00 42.30,262.00 43.50,270.25 44.75,278.00 46.00,285.90 47.25,292.00 49.10,303.25 51.00,312.60 52.25,323.25 53.50,328.90 55.40,333.25 56.60,341.00 57.90,348.50 59.75,351.00 61.00,355.40 61.60,358.50 67.25,358.50 67.90,360.40 72.25,361.00 73.50,363.50 74.75,366.00 76.00,369.10 92.25,369.10 92.25,366.80" fill="none" stroke="#4f1f68" stroke-width="1.5" stroke-linejoin="miter" stroke-linecap="butt"/>
<polyline points="38.50,239.30 39.00,240.00 41.80,250.50 43.50,259.00 44.70,266.00 45.50,272.00 46.30,279.60 47.70,289.30 49.20,298.90 50.40,304.00 51.60,312.60 53.50,314.50 54.75,316.40 56.00,323.25 58.50,325.10 59.75,326.40 61.00,331.00 62.25,336.00 64.10,341.00 68.50,341.60 70.40,344.75 70.40,345.40 86.60,345.40 86.60,357.00 104.50,357.00 104.50,354.80" fill="none" stroke="#dc860f" stroke-width="1.5" stroke-linejoin="miter" stroke-linecap="butt"/>
<line x1="64.50" y1="341.00" x2="64.50" y2="338.80" stroke="#dc860f" stroke-width="1.0"/>
<line x1="68.30" y1="341.60" x2="68.30" y2="339.40" stroke="#dc860f" stroke-width="1.0"/>
<line x1="91.00" y1="357.00" x2="91.00" y2="354.80" stroke="#dc860f" stroke-width="1.0"/>
<polyline points="38.50,238.40 40.00,238.60 41.60,239.60 44.10,242.75 47.25,248.40 51.00,255.90 52.90,260.00 55.80,265.80 58.70,270.60 61.60,276.40 64.50,281.20 69.30,285.00 74.10,288.90 77.90,291.30 82.75,295.60 86.60,297.60 88.50,298.25 90.40,302.60 91.80,307.60" fill="none" stroke="#235840" stroke-width="2.4" stroke-linejoin="miter" stroke-linecap="butt"/>
<polyline points="91.80,308.10 111.40,308.10 111.80,310.50 112.60,312.70 116.90,312.70 116.90,317.50 149.20,317.50 149.20,323.80 206.20,323.80 206.20,348.90 229.50,348.90 229.50,346.70" fill="none" stroke="#3f735a" stroke-width="1.4" stroke-linejoin="miter" stroke-linecap="butt"/>
<line x1="95.70" y1="308.10" x2="95.70" y2="305.90" stroke="#3f735a" stroke-width="1.0"/>
<line x1="97.20" y1="308.10" x2="97.20" y2="305.90" stroke="#3f735a" stroke-width="1.0"/>
<line x1="98.80" y1="308.10" x2="98.80" y2="305.90" stroke="#3f735a" stroke-width="1.0"/>
<line x1="102.60" y1="308.10" x2="102.60" y2="305.90" stroke="#3f735a" stroke-width="1.0"/>
<line x1="104.20" y1="308.10" x2="104.20" y2="305.90" stroke="#3f735a" stroke-width="1.0"/>
<line x1="120.30" y1="317.50" x2="120.30" y2="315.30" stroke="#3f735a" stroke-width="1.0"/>
<line x1="125.70" y1="317.50" x2="125.70" y2="315.30" stroke="#3f735a" stroke-width="1.0"/>
<line x1="151.00" y1="323.80" x2="151.00" y2="321.60" stroke="#3f735a" stroke-width="1.0"/>
<line x1="158.00" y1="323.80" x2="158.00" y2="321.60" stroke="#3f735a" stroke-width="1.0"/>
<line x1="169.50" y1="323.80" x2="169.50" y2="321.60" stroke="#3f735a" stroke-width="1.0"/>
<line x1="170.80" y1="323.80" x2="170.80" y2="321.60" stroke="#3f735a" stroke-width="1.0"/>
<line x1="173.50" y1="323.80" x2="173.50" y2="321.60" stroke="#3f735a" stroke-width="1.0"/>
<line x1="182.80" y1="323.80" x2="182.80" y2="321.60" stroke="#3f735a" stroke-width="1.0"/>
<line x1="204.60" y1="323.80" x2="204.60" y2="321.60" stroke="#3f735a" stroke-width="1.0"/>
<rect x="77.50" y="233.80" width="150.40" height="35.20" fill="#fff" stroke="#1a1a1a" stroke-width="1.3"/>
<line x1="77.50" y1="243.60" x2="227.90" y2="243.60" stroke="#1a1a1a" stroke-width="1.0"/>
<line x1="77.50" y1="252.30" x2="227.90" y2="252.30" stroke="#1a1a1a" stroke-width="1.0"/>
<line x1="77.50" y1="260.40" x2="227.90" y2="260.40" stroke="#1a1a1a" stroke-width="1.0"/>
<line x1="135.60" y1="233.80" x2="135.60" y2="269.00" stroke="#1a1a1a" stroke-width="1.0"/>
<line x1="155.90" y1="233.80" x2="155.90" y2="269.00" stroke="#1a1a1a" stroke-width="1.0"/>
<line x1="174.60" y1="233.80" x2="174.60" y2="269.00" stroke="#1a1a1a" stroke-width="1.0"/>
<line x1="207.50" y1="233.80" x2="207.50" y2="269.00" stroke="#1a1a1a" stroke-width="1.0"/>
<text x="106.55" y="241.01" font-size="5.5" text-anchor="middle" textLength="45.8" lengthAdjust="spacingAndGlyphs" fill="#2e2e2e"><tspan font-style="italic">TP53</tspan> abnormalities</text>
<text x="145.75" y="241.01" font-size="5.5" text-anchor="middle" fill="#2e2e2e">Median</text>
<text x="165.25" y="241.01" font-size="5.5" text-anchor="middle" fill="#2e2e2e">HR*</text>
<text x="191.05" y="241.01" font-size="5.5" text-anchor="middle" fill="#2e2e2e">95% CI</text>
<text x="217.70" y="241.01" font-size="5.5" text-anchor="middle" fill="#2e2e2e">p</text>
<line x1="80.20" y1="248.35" x2="87.70" y2="248.35" stroke="#3f735a" stroke-width="1.5"/>
<line x1="83.95" y1="248.35" x2="83.95" y2="245.45" stroke="#3f735a" stroke-width="1.1"/>
<text x="90.20" y="250.26" font-size="5.5" fill="#2e2e2e">None</text>
<text x="145.75" y="250.26" font-size="5.5" text-anchor="middle" fill="#2e2e2e">54.1</text>
<text x="165.25" y="250.26" font-size="5.5" text-anchor="middle" fill="#2e2e2e">-</text>
<text x="191.05" y="250.26" font-size="5.5" text-anchor="middle" fill="#2e2e2e">-</text>
<text x="217.70" y="250.26" font-size="5.5" text-anchor="middle" fill="#2e2e2e">-</text>
<line x1="80.20" y1="256.75" x2="87.70" y2="256.75" stroke="#dc860f" stroke-width="1.5"/>
<line x1="83.95" y1="256.75" x2="83.95" y2="253.85" stroke="#dc860f" stroke-width="1.1"/>
<text x="90.20" y="258.66" font-size="5.5" fill="#2e2e2e">1</text>
<text x="145.75" y="258.66" font-size="5.5" text-anchor="middle" fill="#2e2e2e">12.3</text>
<text x="165.25" y="258.66" font-size="5.5" text-anchor="middle" fill="#2e2e2e">3.97</text>
<text x="191.05" y="258.66" font-size="5.5" text-anchor="middle" fill="#2e2e2e">2.96-5.31</text>
<text x="217.70" y="258.66" font-size="5.5" text-anchor="middle" fill="#2e2e2e">&lt;0.001</text>
<line x1="80.20" y1="265.10" x2="87.70" y2="265.10" stroke="#4f1f68" stroke-width="1.5"/>
<line x1="83.95" y1="265.10" x2="83.95" y2="262.20" stroke="#4f1f68" stroke-width="1.1"/>
<text x="90.20" y="267.01" font-size="5.5" fill="#2e2e2e">≥2</text>
<text x="145.75" y="267.01" font-size="5.5" text-anchor="middle" fill="#2e2e2e">11.7</text>
<text x="165.25" y="267.01" font-size="5.5" text-anchor="middle" fill="#2e2e2e">5.71</text>
<text x="191.05" y="267.01" font-size="5.5" text-anchor="middle" fill="#2e2e2e">4.44-7.36</text>
<text x="217.70" y="267.01" font-size="5.5" text-anchor="middle" fill="#2e2e2e">&lt;0.001</text>
<text x="150.20" y="285.80" font-size="5.5" textLength="20" lengthAdjust="spacingAndGlyphs">p&lt;0.001</text>
<text x="113.50" y="295.90" font-size="5.5" textLength="114.4" lengthAdjust="spacingAndGlyphs">*≥2 vs 1: HR 1.39, 95% CI 1.03-1.89, p=0.034</text>
<text x="268.40" y="225.20" font-size="11.5" font-weight="bold" stroke="#1a1a1a" stroke-width="0.55">D</text>
<line x1="299.20" y1="232.00" x2="299.20" y2="375.00" stroke="#1a1a1a" stroke-width="1.3"/>
<line x1="295.80" y1="374.40" x2="512.60" y2="374.40" stroke="#1a1a1a" stroke-width="1.3"/>
<text x="292.85" y="376.70" font-size="7" text-anchor="end">0</text>
<line x1="295.80" y1="360.87" x2="299.20" y2="360.87" stroke="#1a1a1a" stroke-width="1.1"/>
<text x="292.85" y="363.17" font-size="7" text-anchor="end">10</text>
<line x1="295.80" y1="347.34" x2="299.20" y2="347.34" stroke="#1a1a1a" stroke-width="1.1"/>
<text x="292.85" y="349.64" font-size="7" text-anchor="end">20</text>
<line x1="295.80" y1="333.81" x2="299.20" y2="333.81" stroke="#1a1a1a" stroke-width="1.1"/>
<text x="292.85" y="336.11" font-size="7" text-anchor="end">30</text>
<line x1="295.80" y1="320.28" x2="299.20" y2="320.28" stroke="#1a1a1a" stroke-width="1.1"/>
<text x="292.85" y="322.58" font-size="7" text-anchor="end">40</text>
<line x1="295.80" y1="306.75" x2="299.20" y2="306.75" stroke="#1a1a1a" stroke-width="1.1"/>
<text x="292.85" y="309.05" font-size="7" text-anchor="end">50</text>
<line x1="295.80" y1="293.22" x2="299.20" y2="293.22" stroke="#1a1a1a" stroke-width="1.1"/>
<text x="292.85" y="295.52" font-size="7" text-anchor="end">60</text>
<line x1="295.80" y1="279.69" x2="299.20" y2="279.69" stroke="#1a1a1a" stroke-width="1.1"/>
<text x="292.85" y="281.99" font-size="7" text-anchor="end">70</text>
<line x1="295.80" y1="266.16" x2="299.20" y2="266.16" stroke="#1a1a1a" stroke-width="1.1"/>
<text x="292.85" y="268.46" font-size="7" text-anchor="end">80</text>
<line x1="295.80" y1="252.63" x2="299.20" y2="252.63" stroke="#1a1a1a" stroke-width="1.1"/>
<text x="292.85" y="254.93" font-size="7" text-anchor="end">90</text>
<line x1="295.80" y1="239.10" x2="299.20" y2="239.10" stroke="#1a1a1a" stroke-width="1.1"/>
<text x="292.85" y="241.40" font-size="7" text-anchor="end">100</text>
<line x1="299.20" y1="374.40" x2="299.20" y2="377.60" stroke="#1a1a1a" stroke-width="1.1"/>
<text x="302.40" y="384.90" font-size="7" text-anchor="end" transform="rotate(-45 302.40 384.90)">0</text>
<line x1="331.25" y1="374.40" x2="331.25" y2="377.60" stroke="#1a1a1a" stroke-width="1.1"/>
<text x="334.45" y="384.90" font-size="7" text-anchor="end" transform="rotate(-45 334.45 384.90)">12</text>
<line x1="363.30" y1="374.40" x2="363.30" y2="377.60" stroke="#1a1a1a" stroke-width="1.1"/>
<text x="366.50" y="384.90" font-size="7" text-anchor="end" transform="rotate(-45 366.50 384.90)">24</text>
<line x1="395.35" y1="374.40" x2="395.35" y2="377.60" stroke="#1a1a1a" stroke-width="1.1"/>
<text x="398.55" y="384.90" font-size="7" text-anchor="end" transform="rotate(-45 398.55 384.90)">36</text>
<line x1="427.40" y1="374.40" x2="427.40" y2="377.60" stroke="#1a1a1a" stroke-width="1.1"/>
<text x="430.60" y="384.90" font-size="7" text-anchor="end" transform="rotate(-45 430.60 384.90)">48</text>
<line x1="459.45" y1="374.40" x2="459.45" y2="377.60" stroke="#1a1a1a" stroke-width="1.1"/>
<text x="462.65" y="384.90" font-size="7" text-anchor="end" transform="rotate(-45 462.65 384.90)">60</text>
<line x1="491.50" y1="374.40" x2="491.50" y2="377.60" stroke="#1a1a1a" stroke-width="1.1"/>
<text x="494.70" y="384.90" font-size="7" text-anchor="end" transform="rotate(-45 494.70 384.90)">72</text>
<text x="276.00" y="303.70" font-size="9.8" text-anchor="middle" textLength="43.0" lengthAdjust="spacingAndGlyphs" transform="rotate(-90 276.00 303.70)" stroke="#1a1a1a" stroke-width="0.12">Percent survival</text>
<text x="386.20" y="402.90" font-size="9.4" textLength="39.6" lengthAdjust="spacingAndGlyphs" stroke="#1a1a1a" stroke-width="0.18">Time (months)</text>
<polyline points="299.10,240.75 301.00,247.00 302.90,253.90 304.10,259.50 305.40,262.00 306.00,269.50 307.25,276.40 308.50,281.40 309.10,282.50 311.60,287.50 313.50,296.25 314.75,303.10 316.60,304.40 318.50,306.25 320.40,311.25 321.60,317.50 322.25,326.00 322.25,334.75 323.50,338.50 326.60,338.50 327.25,342.25 329.75,342.25 330.40,346.00 332.25,346.00 332.90,349.10 336.60,349.10 337.25,356.60 341.00,356.60 341.60,359.75 346.00,359.75 346.60,363.30 358.75,363.30 359.40,366.60 360.60,370.90 430.20,370.90 430.20,368.70" fill="none" stroke="#dc860f" stroke-width="1.5" stroke-linejoin="miter" stroke-linecap="butt"/>
<polyline points="299.10,237.00 301.60,238.90 303.50,241.40 306.00,244.50 308.50,249.50 311.00,254.50 313.50,260.75 314.75,265.75 316.60,269.50 319.10,273.25 321.00,276.40 322.90,280.75 324.10,285.00 326.00,292.50 328.50,295.00 330.40,301.25 332.25,307.50 334.10,310.00 336.00,316.25 338.50,321.90 340.40,324.40 343.50,326.00 346.00,331.00 348.50,337.25 351.60,341.00 353.50,344.75 357.25,345.50 360.00,346.50 361.25,351.00 362.50,355.40 369.40,355.40 370.00,357.25 378.10,357.25 378.75,360.00 392.50,360.00 392.50,365.40 395.60,365.40 395.60,369.75 401.25,369.75 401.25,374.30" fill="none" stroke="#c80f82" stroke-width="1.75" stroke-linejoin="miter" stroke-linecap="butt"/>
<line x1="369.20" y1="355.40" x2="369.20" y2="353.20" stroke="#c80f82" stroke-width="1.0"/>
<line x1="384.75" y1="360.00" x2="384.75" y2="357.80" stroke="#c80f82" stroke-width="1.0"/>
<polyline points="299.10,238.90 305.60,238.90 305.60,245.00 309.90,245.00 309.90,250.90 330.40,250.90 330.40,259.50 331.80,259.50 331.80,266.20 333.40,266.20 333.40,276.70 338.50,276.70 338.50,287.20 478.00,287.20 478.00,284.90" fill="none" stroke="#4f1f68" stroke-width="1.5" stroke-linejoin="miter" stroke-linecap="butt"/>
<line x1="301.80" y1="238.90" x2="301.80" y2="236.70" stroke="#4f1f68" stroke-width="1.0"/>
<line x1="314.10" y1="250.90" x2="314.10" y2="248.70" stroke="#4f1f68" stroke-width="1.0"/>
<line x1="315.40" y1="250.90" x2="315.40" y2="248.70" stroke="#4f1f68" stroke-width="1.0"/>
<line x1="321.60" y1="250.90" x2="321.60" y2="248.70" stroke="#4f1f68" stroke-width="1.0"/>
<line x1="352.90" y1="287.20" x2="352.90" y2="285.00" stroke="#4f1f68" stroke-width="1.0"/>
<line x1="362.70" y1="287.20" x2="362.70" y2="285.00" stroke="#4f1f68" stroke-width="1.0"/>
<line x1="364.30" y1="287.20" x2="364.30" y2="285.00" stroke="#4f1f68" stroke-width="1.0"/>
<line x1="375.80" y1="287.20" x2="375.80" y2="285.00" stroke="#4f1f68" stroke-width="1.0"/>
<line x1="377.40" y1="287.20" x2="377.40" y2="285.00" stroke="#4f1f68" stroke-width="1.0"/>
<line x1="416.60" y1="287.20" x2="416.60" y2="285.00" stroke="#4f1f68" stroke-width="1.0"/>
<rect x="349.80" y="232.90" width="157.80" height="39.00" fill="#fff" stroke="#1a1a1a" stroke-width="1.3"/>
<line x1="349.80" y1="243.60" x2="507.60" y2="243.60" stroke="#1a1a1a" stroke-width="1.0"/>
<line x1="349.80" y1="253.40" x2="507.60" y2="253.40" stroke="#1a1a1a" stroke-width="1.0"/>
<line x1="349.80" y1="263.10" x2="507.60" y2="263.10" stroke="#1a1a1a" stroke-width="1.0"/>
<line x1="414.20" y1="232.90" x2="414.20" y2="271.90" stroke="#1a1a1a" stroke-width="1.0"/>
<line x1="435.20" y1="232.90" x2="435.20" y2="271.90" stroke="#1a1a1a" stroke-width="1.0"/>
<line x1="454.30" y1="232.90" x2="454.30" y2="271.90" stroke="#1a1a1a" stroke-width="1.0"/>
<line x1="487.30" y1="232.90" x2="487.30" y2="271.90" stroke="#1a1a1a" stroke-width="1.0"/>
<text x="382.00" y="240.56" font-size="5.5" text-anchor="middle" fill="#2e2e2e">Group</text>
<text x="424.70" y="240.56" font-size="5.5" text-anchor="middle" fill="#2e2e2e">Median</text>
<text x="444.75" y="240.56" font-size="5.5" text-anchor="middle" fill="#2e2e2e">HR</text>
<text x="470.80" y="240.56" font-size="5.5" text-anchor="middle" fill="#2e2e2e">95% CI</text>
<text x="497.45" y="240.56" font-size="5.5" text-anchor="middle" fill="#2e2e2e">p</text>
<line x1="352.20" y1="248.90" x2="359.70" y2="248.90" stroke="#4f1f68" stroke-width="1.5"/>
<line x1="355.95" y1="248.90" x2="355.95" y2="246.00" stroke="#4f1f68" stroke-width="1.1"/>
<text x="363.10" y="250.81" font-size="5.5" fill="#2e2e2e"><tspan font-style="italic">TP53</tspan>&lt;20%</text>
<text x="424.70" y="250.81" font-size="5.5" text-anchor="middle" fill="#2e2e2e">NR</text>
<text x="444.75" y="250.81" font-size="5.5" text-anchor="middle" fill="#2e2e2e">-</text>
<text x="470.80" y="250.81" font-size="5.5" text-anchor="middle" fill="#2e2e2e">Reference</text>
<text x="497.45" y="250.81" font-size="5.5" text-anchor="middle" fill="#2e2e2e">-</text>
<line x1="352.20" y1="258.65" x2="359.70" y2="258.65" stroke="#c80f82" stroke-width="1.5"/>
<line x1="355.95" y1="258.65" x2="355.95" y2="255.75" stroke="#c80f82" stroke-width="1.1"/>
<text x="363.10" y="260.56" font-size="5.5" fill="#2e2e2e">Other</text>
<text x="424.70" y="260.56" font-size="5.5" text-anchor="middle" fill="#2e2e2e">12.3</text>
<text x="444.75" y="260.56" font-size="5.5" text-anchor="middle" fill="#2e2e2e">4.25</text>
<text x="470.80" y="260.56" font-size="5.5" text-anchor="middle" fill="#2e2e2e">1.96-9.21</text>
<text x="497.45" y="260.56" font-size="5.5" text-anchor="middle" fill="#2e2e2e">&lt;0.001</text>
<line x1="352.20" y1="267.90" x2="359.70" y2="267.90" stroke="#dc860f" stroke-width="1.5"/>
<line x1="355.95" y1="267.90" x2="355.95" y2="265.00" stroke="#dc860f" stroke-width="1.1"/>
<text x="363.10" y="269.81" font-size="5.5" textLength="48.2" lengthAdjust="spacingAndGlyphs" fill="#2e2e2e"><tspan font-style="italic">TP53</tspan>&gt;50%+/-CCG</text>
<text x="424.70" y="269.81" font-size="5.5" text-anchor="middle" fill="#2e2e2e">8.1</text>
<text x="444.75" y="269.81" font-size="5.5" text-anchor="middle" fill="#2e2e2e">7.03</text>
<text x="470.80" y="269.81" font-size="5.5" text-anchor="middle" fill="#2e2e2e">3.19-15.48</text>
<text x="497.45" y="269.81" font-size="5.5" text-anchor="middle" fill="#2e2e2e">&lt;0.001</text>
<text x="424.00" y="282.30" font-size="5.5" textLength="20.4" lengthAdjust="spacingAndGlyphs">p&lt;0.001</text>
<rect x="0" y="0" width="520" height="1.15" fill="#000"/>
<rect x="0" y="0" width="1.2" height="415" fill="#000"/>
<rect x="518.4" y="0" width="1.6" height="415" fill="#000"/>
<rect x="0" y="413.55" width="520" height="1.45" fill="#000"/>
</svg>
</body></html>
